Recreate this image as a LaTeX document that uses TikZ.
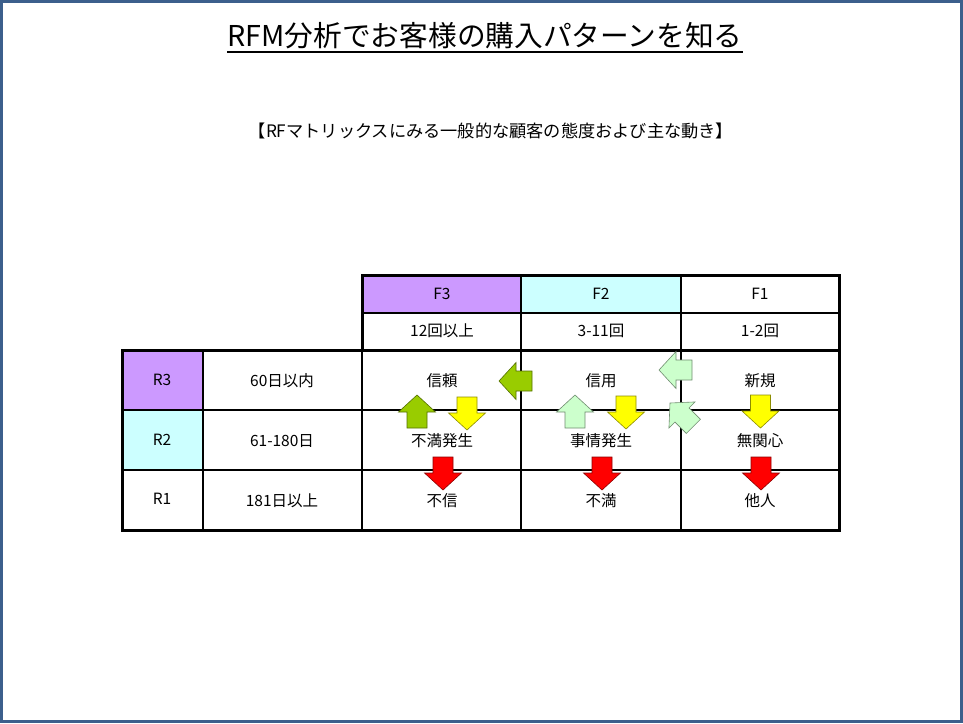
\documentclass[tikz,border=0pt]{standalone}
\usepackage{fontspec}
\setmainfont{Noto Sans CJK JP}
\definecolor{frameblue}{HTML}{3C5F8C}
\definecolor{lav}{HTML}{CC99FF}
\definecolor{lcyan}{HTML}{CCFFFF}
\definecolor{olivegreen}{HTML}{99CC00}
\definecolor{palegreen}{HTML}{CCFFCC}
\definecolor{ayellow}{HTML}{FFFF00}
\definecolor{ared}{HTML}{FF0000}
\tikzset{
  x=1pt, y=-1pt,
  cell/.style={font=\fontsize{15.5}{18}\selectfont, inner sep=0pt, anchor=center},
  inner/.style={line width=2pt, black},
  outer/.style={line width=3pt, black},
  barrow/.style={line width=0.6pt, fill=#1, draw=#1!55!black, line join=miter},
}
\newcommand\blockarr[4]{% tip x, tip y, angle, colour
  \draw[barrow=#4, shift={(#1,#2)}, rotate=#3]
    (0,0) -- (-17,18.5) -- (-17,10) -- (-33,10) -- (-33,-10) -- (-17,-10) -- (-17,-18.5) -- cycle;}
\begin{document}
\begin{tikzpicture}
\useasboundingbox (0,0) rectangle (963,723);
\fill[white] (0,0) rectangle (963,723);
\draw[frameblue, line width=3pt] (1.5,1.5) rectangle (961.5,721.5);

% title
\node[inner sep=0pt, anchor=base, font=\fontsize{28.7}{32}\selectfont] (title) at (485,46) {RFM分析でお客様の購入パターンを知る};
\draw[line width=2pt] ([yshift=-6pt]title.base west) -- ([yshift=-6pt]title.base east);
\node[inner sep=0pt, font=\fontsize{17.2}{20}\selectfont] (sub) at (491,131) {【RFマトリックスにみる一般的な顧客の態度および主な動き】};

% fills
\fill[lav] (362,275) rectangle (521,313);
\fill[lcyan] (521,275) rectangle (681,313);
\fill[lav] (122,350) rectangle (203,410);
\fill[lcyan] (122,410) rectangle (203,470);

% inner lines
\draw[inner] (362,313) -- (839,313);
\draw[inner] (521,275) -- (521,350);
\draw[inner] (681,275) -- (681,350);
\draw[inner] (122,410) -- (839,410);
\draw[inner] (122,470) -- (839,470);
\foreach \xx in {203,362,521,681} \draw[inner] (\xx,350) -- (\xx,530);
% outer frames
\draw[outer] (362,275) rectangle (839,350);
\draw[outer] (122,350) rectangle (839,530);

% header texts
\node[cell] (f3) at (442,294) {F3};
\node[cell] (f2) at (601,294) {F2};
\node[cell] (f1) at (760,294) {F1};
\node[cell] (f3v) at (442,331) {12回以上};
\node[cell] (f2v) at (601,331) {3-11回};
\node[cell] (f1v) at (760,331) {1-2回};
\node[cell] (r3) at (162,380) {R3};
\node[cell] (r2) at (162,440) {R2};
\node[cell] (r1) at (162,499) {R1};
\node[cell] (r3v) at (282,381) {60日以内};
\node[cell] (r2v) at (282,441) {61-180日};
\node[cell] (r1v) at (282,501) {181日以上};

% body texts
\node[cell] (c33) at (442,381) {信頼};
\node[cell] (c32) at (601,381) {信用};
\node[cell] (c31) at (760,381) {新規};
\node[cell] (c23) at (442,441) {不満発生};
\node[cell] (c22) at (601,441) {事情発生};
\node[cell] (c21) at (760,441) {無関心};
\node[cell] (c13) at (442,501) {不信};
\node[cell] (c12) at (601,501) {不満};
\node[cell] (c11) at (760,501) {他人};

% arrows
\blockarr{499}{381}{180}{olivegreen}
\blockarr{417}{395}{90}{olivegreen}
\blockarr{467}{430}{-90}{ayellow}
\blockarr{443}{490}{-90}{ared}
\blockarr{575}{395}{90}{palegreen}
\blockarr{626}{429}{-90}{ayellow}
\blockarr{602}{490}{-90}{ared}
\blockarr{659}{370}{180}{palegreen}
\blockarr{670}{403}{135}{palegreen}
\blockarr{760.5}{428}{-90}{ayellow}
\blockarr{761}{490}{-90}{ared}
\end{tikzpicture}
\end{document}
